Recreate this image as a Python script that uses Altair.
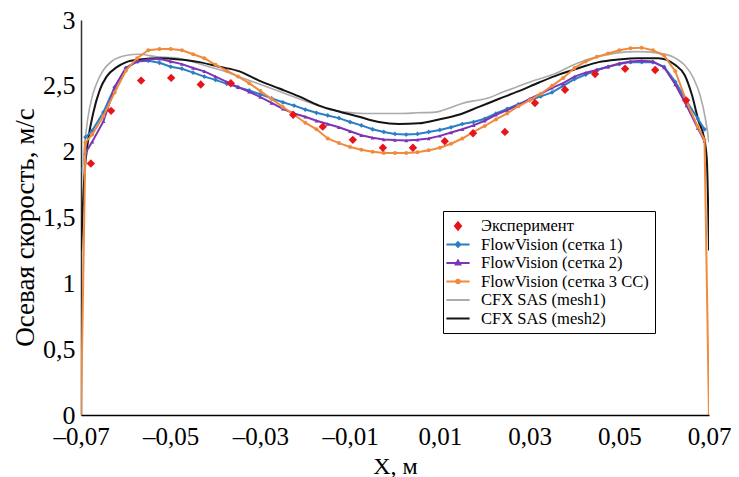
import altair as alt
import pandas as pd

FONT = "Liberation Serif"

names = ["Эксперимент", "FlowVision (сетка 1)", "FlowVision (сетка 2)",
         "FlowVision (сетка 3 CC)", "CFX SAS (mesh1)", "CFX SAS (mesh2)"]
colors = ["#e8141b", "#2a7fc4", "#7b35b5", "#f08a3c", "#ababab", "#141414"]

# legend symbol paths (line + marker)
shapes = [
    "M0,-0.45L0.38,0L0,0.45L-0.38,0Z",
    "M-1.45,0H1.45M0,-0.3L0.3,0L0,0.3L-0.3,0Z",
    "M-1.45,0H1.45M0,-0.32L0.28,0.18L-0.28,0.18Z",
    "M-1.45,0H1.45M0.22,0A0.22,0.22,0,1,1,-0.22,0A0.22,0.22,0,1,1,0.22,0Z",
    "M-1.45,0H1.45",
    "M-1.45,0H1.45",
]

exp_x = [-0.0678, -0.0633, -0.0566, -0.0499, -0.0433, -0.0366, -0.0227, -0.0161,
         -0.0094, -0.0027, 0.0040, 0.0111, 0.0174, 0.0245, 0.0312, 0.0379, 0.0446,
         0.0513, 0.0580, 0.0649]
exp_y = [1.91, 2.31, 2.54, 2.56, 2.51, 2.52, 2.28, 2.19, 2.09, 2.03, 2.03, 2.08,
         2.14, 2.15, 2.37, 2.47, 2.59, 2.63, 2.62, 2.39]

fv_x = [-0.069, -0.0675, -0.065, -0.0625, -0.06, -0.0575, -0.055, -0.0525, -0.05, -0.0475,
        -0.045, -0.0425, -0.04, -0.0375, -0.035, -0.0325, -0.03, -0.0275, -0.025, -0.0225,
        -0.02, -0.0175, -0.015, -0.0125, -0.01, -0.0075, -0.005, -0.0025, 0.0, 0.0025,
        0.005, 0.0075, 0.01, 0.0125, 0.015, 0.0175, 0.02, 0.0225, 0.025, 0.0275,
        0.03, 0.0325, 0.035, 0.0375, 0.04, 0.0425, 0.045, 0.0475, 0.05, 0.0525,
        0.055, 0.0575, 0.06, 0.0625, 0.065, 0.0675, 0.069]

fv1_y = [2.11, 2.16, 2.30, 2.49, 2.635, 2.685, 2.69, 2.675, 2.645, 2.63,
         2.60, 2.57, 2.545, 2.515, 2.49, 2.465, 2.435, 2.405, 2.375, 2.35,
         2.32, 2.295, 2.275, 2.255, 2.225, 2.20, 2.17, 2.15, 2.135, 2.13,
         2.135, 2.15, 2.165, 2.185, 2.21, 2.225, 2.25, 2.29, 2.325, 2.36,
         2.39, 2.42, 2.45, 2.50, 2.55, 2.585, 2.62, 2.645, 2.665, 2.68,
         2.68, 2.68, 2.645, 2.53, 2.385, 2.25, 2.17]

fv2_y = [1.99, 2.075, 2.23, 2.49, 2.635, 2.685, 2.70, 2.705, 2.685, 2.665,
         2.635, 2.61, 2.57, 2.53, 2.49, 2.455, 2.415, 2.37, 2.325, 2.29,
         2.265, 2.235, 2.21, 2.185, 2.155, 2.125, 2.105, 2.093, 2.088, 2.085,
         2.09, 2.10, 2.12, 2.145, 2.17, 2.20, 2.235, 2.28, 2.315, 2.355,
         2.40, 2.44, 2.485, 2.52, 2.57, 2.60, 2.62, 2.645, 2.67, 2.685,
         2.69, 2.685, 2.64, 2.51, 2.35, 2.18, 2.08]

fv3_y = [2.07, 2.13, 2.27, 2.45, 2.615, 2.71, 2.77, 2.78, 2.78, 2.77,
         2.74, 2.71, 2.66, 2.615, 2.57, 2.52, 2.46, 2.40, 2.34, 2.28,
         2.22, 2.17, 2.10, 2.065, 2.035, 2.015, 2.0, 1.99, 1.99, 1.99,
         1.995, 2.01, 2.03, 2.06, 2.10, 2.15, 2.195, 2.245, 2.29, 2.345,
         2.39, 2.44, 2.50, 2.56, 2.635, 2.685, 2.72, 2.745, 2.77, 2.785,
         2.79, 2.77, 2.73, 2.61, 2.38, 2.19, 2.09]
wall_x = [-0.07, 0.07]
wall_y = [0.0, 0.0]

cfx1_x = [-0.0697, -0.0692, -0.0685, -0.0675, -0.0665, -0.065, -0.063, -0.06, -0.057, -0.053,
          -0.0495, -0.046, -0.042, -0.038, -0.034, -0.03, -0.026, -0.022, -0.018, -0.0145,
          -0.011, -0.007, -0.003, 0.001, 0.005, 0.009, 0.012, 0.0145, 0.0165, 0.0185,
          0.021, 0.0235, 0.027, 0.031, 0.0355, 0.0405, 0.045, 0.0495, 0.054, 0.0585,
          0.0625, 0.0645, 0.0665, 0.068, 0.0692, 0.07]
cfx1_y = [1.85, 2.05, 2.25, 2.42, 2.52, 2.62, 2.69, 2.73, 2.74, 2.72,
          2.715, 2.69, 2.65, 2.61, 2.56, 2.51, 2.46, 2.41, 2.36, 2.32,
          2.30, 2.29, 2.29, 2.29, 2.295, 2.30, 2.33, 2.36, 2.38, 2.39,
          2.41, 2.445, 2.49, 2.54, 2.59, 2.67, 2.72, 2.75, 2.76, 2.75,
          2.71, 2.66, 2.56, 2.43, 2.25, 2.07]

cfx2_x = [-0.07, -0.0692, -0.0684, -0.0673, -0.0658, -0.0643, -0.0621, -0.0599, -0.0569, -0.0525,
          -0.048, -0.0436, -0.0392, -0.0347, -0.0303, -0.0258, -0.0214, -0.0169, -0.0125, -0.008,
          -0.0036, 0.0009, 0.0053, 0.0098, 0.0142, 0.0187, 0.0231, 0.0276, 0.0321, 0.0365,
          0.041, 0.0454, 0.0498, 0.0543, 0.0587, 0.0624, 0.0646, 0.0662, 0.0677, 0.0688,
          0.0695, 0.07]
cfx2_y = [1.25, 1.84, 2.09, 2.29, 2.47, 2.57, 2.64, 2.68, 2.70, 2.71,
          2.70, 2.68, 2.645, 2.61, 2.54, 2.48, 2.42, 2.35, 2.305, 2.265,
          2.225, 2.21, 2.215, 2.245, 2.28, 2.34, 2.40, 2.46, 2.525, 2.585,
          2.635, 2.68, 2.70, 2.71, 2.71, 2.66, 2.58, 2.43, 2.23, 2.12,
          1.95, 1.25]

x_ticks = [-0.07, -0.05, -0.03, -0.01, 0.01, 0.03, 0.05, 0.07]
y_ticks = [0, 0.5, 1, 1.5, 2, 2.5, 3]


def enc(chart):
    return chart.encode(
        x=alt.X("x:Q", scale=alt.Scale(domain=[-0.07, 0.07], nice=False, zero=False),
                axis=alt.Axis(values=x_ticks, ticks=False, grid=False, labelFlush=False,
                              labelExpr="replace(replace(toString(datum.value), '.', ','), '-', '–')",
                              labelFont=FONT, labelFontSize=25, labelColor="black", labelPadding=9,
                              domainColor="black", domainWidth=1.5,
                              title="X, м", titleFont=FONT, titleFontSize=24,
                              titleFontWeight="normal", titleColor="black",
                              titleX=314, titleY=58, titleBaseline="alphabetic")),
        y=alt.Y("y:Q", scale=alt.Scale(domain=[0, 3], nice=False),
                axis=alt.Axis(values=y_ticks, ticks=False, grid=False,
                              labelExpr="replace(toString(datum.value), '.', ',')",
                              labelFont=FONT, labelFontSize=26, labelColor="black", labelPadding=6,
                              domainColor="#333333", domainWidth=1.5,
                              title="Осевая скорость, м/с", titleFont=FONT, titleFontSize=27,
                              titleFontWeight="normal", titleColor="black",
                              titleX=-56, titleY=207, titleAngle=270,
                              titleAlign="center", titleBaseline="middle")),
    )


def df(xs, ys):
    return pd.DataFrame({"x": xs, "y": ys})


layers = []
layers.append(enc(alt.Chart(df(cfx1_x, cfx1_y)).mark_line(
    color=colors[4], strokeWidth=1.6, interpolate="monotone", clip=True)))
layers.append(enc(alt.Chart(df(cfx2_x, cfx2_y)).mark_line(
    color=colors[5], strokeWidth=2, interpolate="monotone", clip=True)))
layers.append(enc(alt.Chart(df(fv_x, fv1_y)).mark_line(
    color=colors[1], strokeWidth=2, clip=True,
    point=alt.OverlayMarkDef(shape="diamond", size=22, filled=True, color=colors[1]))))
layers.append(enc(alt.Chart(df(fv_x, fv2_y)).mark_line(
    color=colors[2], strokeWidth=2, clip=True,
    point=alt.OverlayMarkDef(shape="triangle-up", size=16, filled=True, color=colors[2]))))
fv3_full_x = wall_x[:1] + fv_x + wall_x[1:]
fv3_full_y = wall_y[:1] + fv3_y + wall_y[1:]
layers.append(enc(alt.Chart(df(fv3_full_x, fv3_full_y)).mark_line(
    color=colors[3], strokeWidth=2, clip=True,
    point=alt.OverlayMarkDef(shape="circle", size=16, filled=True, color=colors[3]))))
layers.append(enc(alt.Chart(df(exp_x, exp_y)).mark_point(
    shape="diamond", size=70, filled=True, color=colors[0], opacity=1, clip=True)))

leg = alt.Legend(
    orient="none", legendX=362, legendY=191, title=None,
    labelFont=FONT, labelFontSize=16.5, labelColor="black", labelOffset=14, labelLimit=400,
    symbolSize=256, symbolStrokeWidth=2, symbolOpacity=1, padding=6, rowPadding=0.5,
    strokeColor="black", fillColor="white",
)
legend_layer = alt.Chart(pd.DataFrame({"series": names})).mark_point(
    filled=True, opacity=0).encode(
    fill=alt.Fill("series:N", scale=alt.Scale(domain=names, range=colors), legend=leg),
    stroke=alt.Stroke("series:N", scale=alt.Scale(domain=names, range=colors), legend=leg),
    shape=alt.Shape("series:N", scale=alt.Scale(domain=names, range=shapes), legend=leg),
)
layers.append(legend_layer)

chart = alt.layer(*layers).properties(
    width=628, height=395,
    autosize=alt.AutoSizeParams(type="none"),
    padding={"left": 73, "top": 12, "right": 22, "bottom": 64},
    background="white",
).configure_view(stroke=None)

chart.save("out.html", embed_options={"renderer": "svg", "actions": False})
